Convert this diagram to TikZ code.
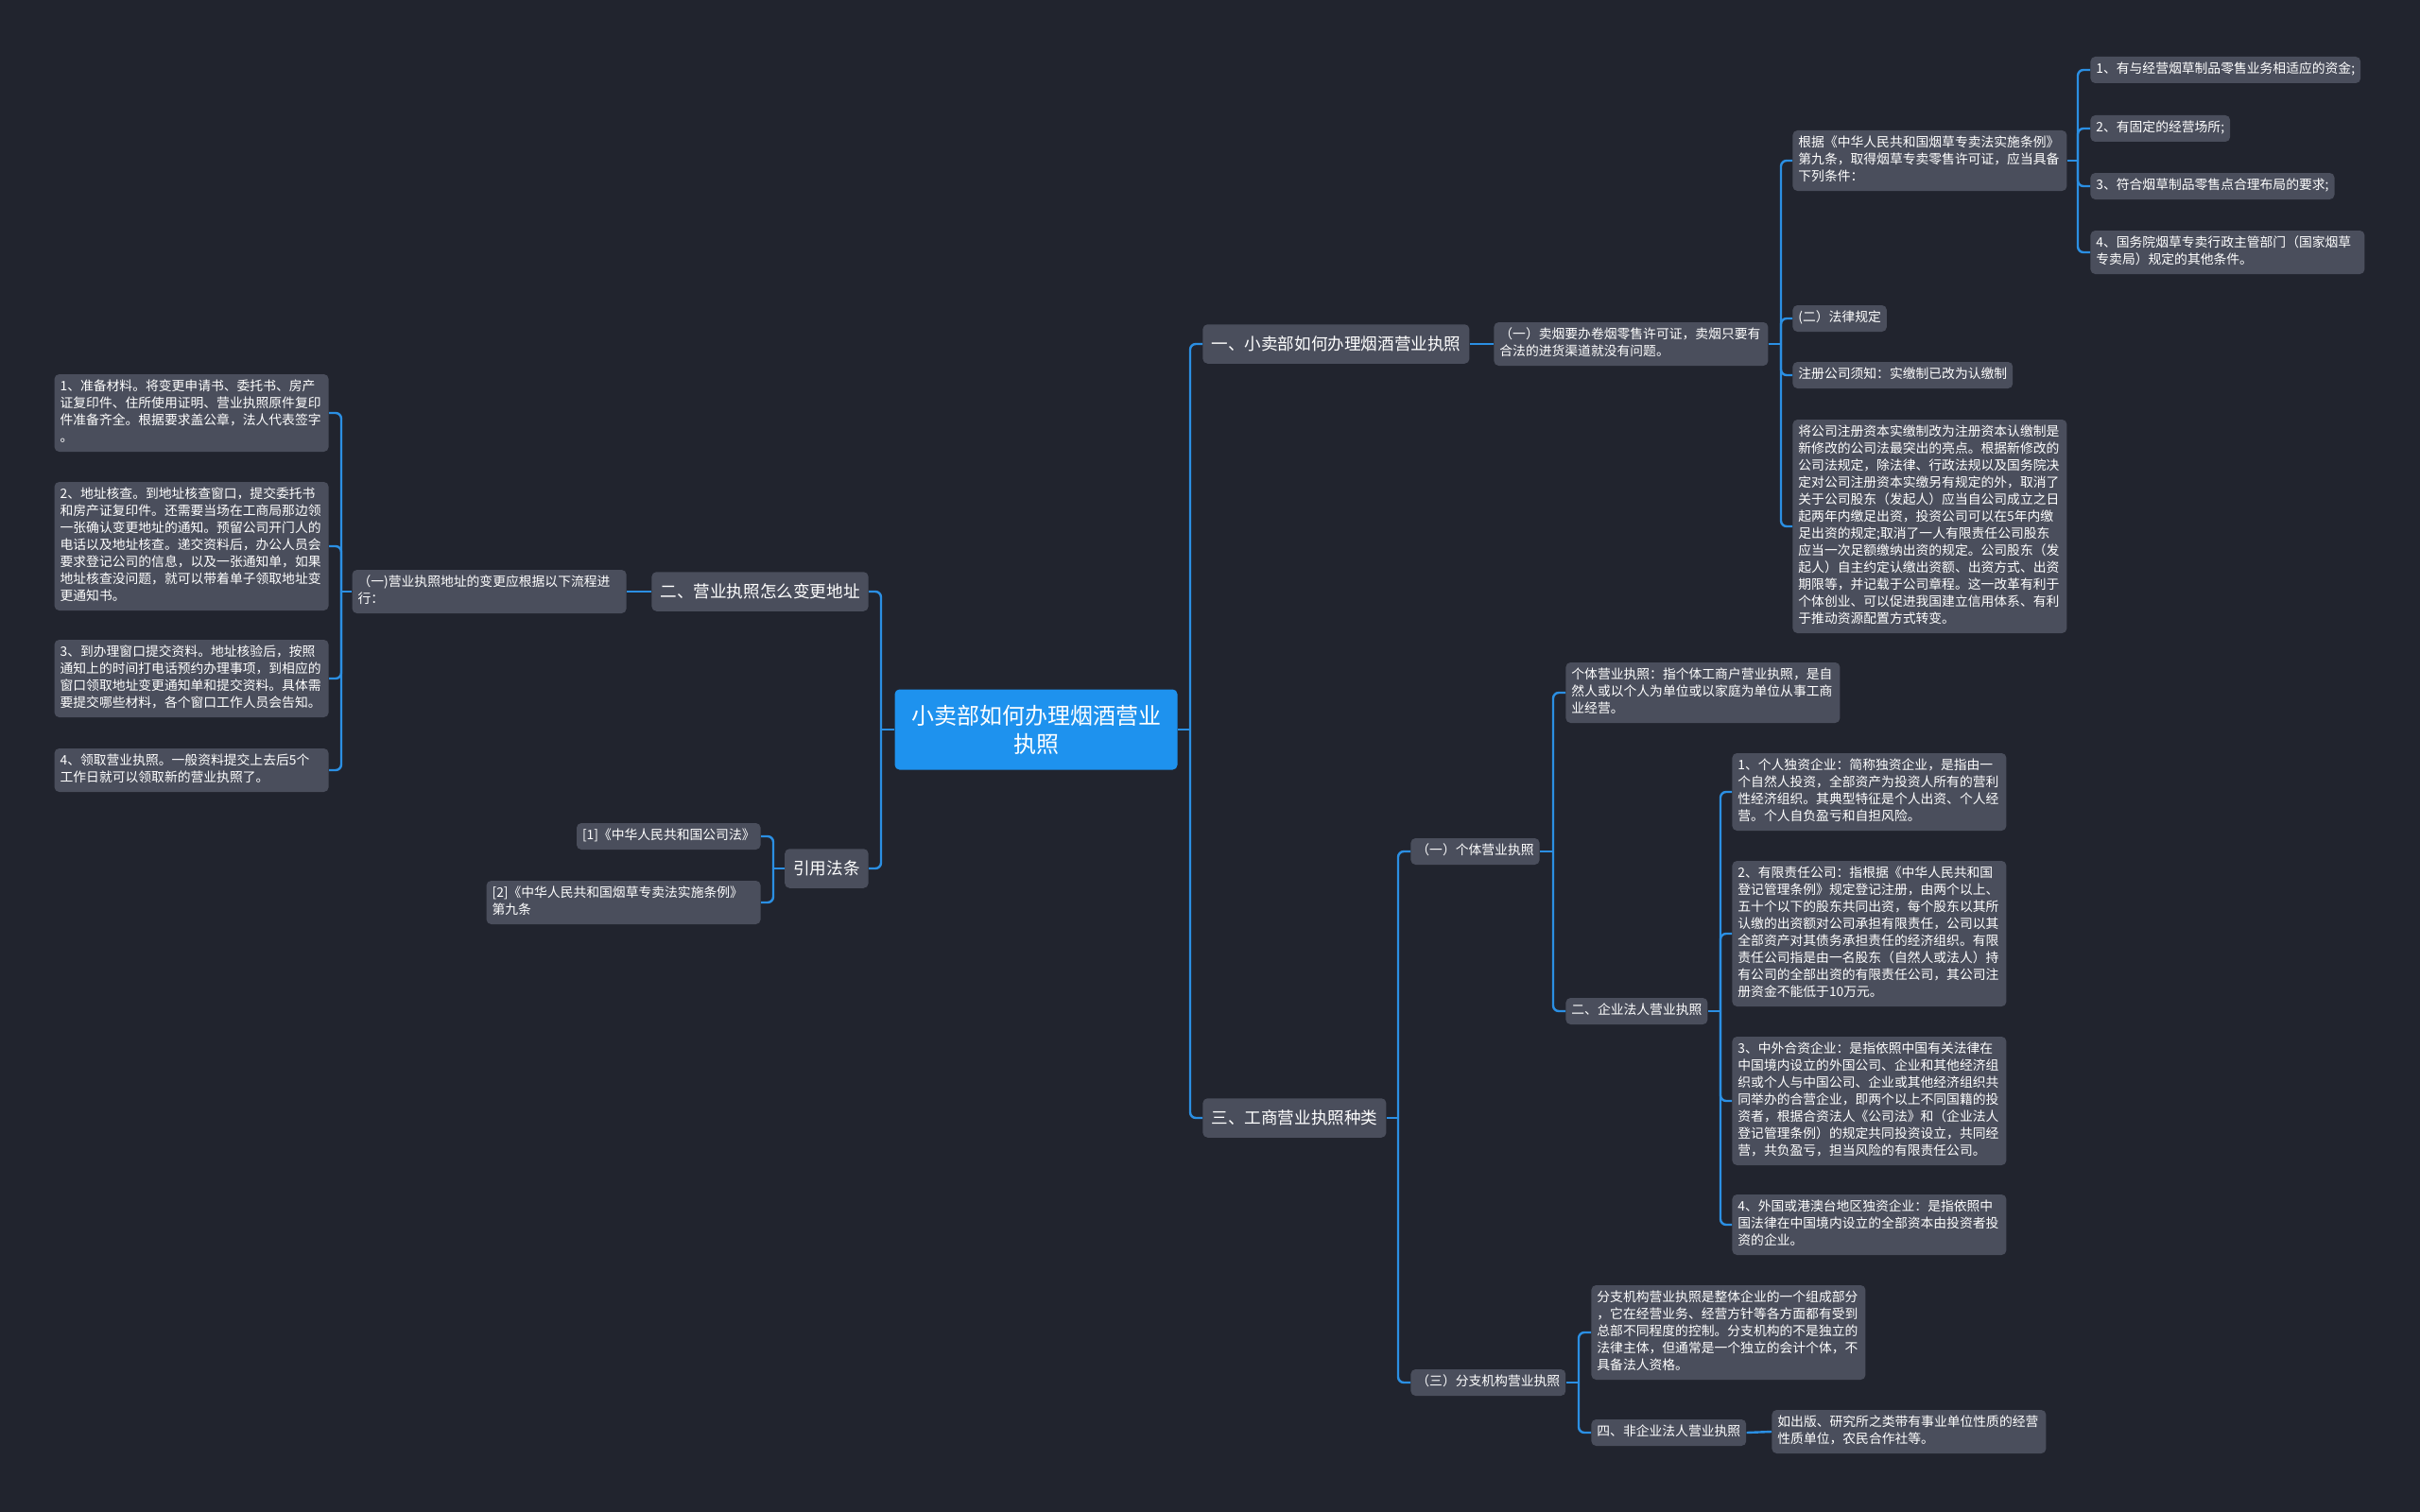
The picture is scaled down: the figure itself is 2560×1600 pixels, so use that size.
\documentclass[tikz,border=0pt]{standalone}
\usepackage{fontspec}
\setmainfont{Noto Sans CJK SC}
\definecolor{bgnavy}{HTML}{21242E}
\definecolor{cardgray}{HTML}{4A4E5C}
\definecolor{rootblue}{HTML}{1E92EE}
\definecolor{wireblue}{HTML}{2B8FE3}
\tikzset{
  card/.style={fill=cardgray, rounded corners=2.5pt, text=white},
  mainbox/.style={fill=rootblue, rounded corners=2.5pt, text=white, align=center,
    font=\fontsize{12}{15}\selectfont, minimum width=149.5pt, minimum height=42.5pt},
  topicbox/.style={card, font=\fontsize{8.8}{11}\selectfont, inner xsep=4.5pt,
    inner ysep=0pt, minimum height=20.75pt},
  itembox/.style={card, font=\fontsize{6.9}{9}\selectfont, inner xsep=3pt, inner ysep=2.5pt,
    execute at begin node=\strut, execute at end node=\strut},
  parabox/.style={itembox, text width=139pt, align=left},
  wire/.style={draw=wireblue, line width=1.2pt, rounded corners=3pt},
}
\begin{document}
\begin{tikzpicture}[x=0.5pt,y=-0.5pt]
    \fill[bgnavy] (0,0) rectangle (2560,1600);
    \useasboundingbox (0,0) rectangle (2560,1600);

    \node[mainbox] (root) at (1096,772) {小卖部如何办理烟酒营业\\执照};

    % right side
    \node[topicbox, anchor=west] (sell) at (1272,364) {一、小卖部如何办理烟酒营业执照};
    \node[parabox, anchor=west] (sellA) at (1580,364) {（一）卖烟要办卷烟零售许可证，卖烟只要有\\合法的进货渠道就没有问题。};
    \node[parabox, anchor=west] (law9) at (1896,170) {根据《中华人民共和国烟草专卖法实施条例》\\第九条，取得烟草专卖零售许可证，应当具备\\下列条件：};
    \node[itembox, anchor=west] (cond1) at (2211,74) {1、有与经营烟草制品零售业务相适应的资金;};
    \node[itembox, anchor=west] (cond2) at (2211,136) {2、有固定的经营场所;};
    \node[itembox, anchor=west] (cond3) at (2211,197) {3、符合烟草制品零售点合理布局的要求;};
    \node[parabox, anchor=west] (cond4) at (2211,267) {4、国务院烟草专卖行政主管部门（国家烟草\\专卖局）规定的其他条件。};
    \node[itembox, anchor=west] (lawrule) at (1896,337) {(二）法律规定};
    \node[itembox, anchor=west] (notice) at (1896,397) {注册公司须知：实缴制已改为认缴制};
    \node[parabox, anchor=west] (reform) at (1896,557) {将公司注册资本实缴制改为注册资本认缴制是\\新修改的公司法最突出的亮点。根据新修改的\\公司法规定，除法律、行政法规以及国务院决\\定对公司注册资本实缴另有规定的外，取消了\\关于公司股东（发起人）应当自公司成立之日\\起两年内缴足出资，投资公司可以在5年内缴\\足出资的规定;取消了一人有限责任公司股东\\应当一次足额缴纳出资的规定。公司股东（发\\起人）自主约定认缴出资额、出资方式、出资\\期限等，并记载于公司章程。这一改革有利于\\个体创业、可以促进我国建立信用体系、有利\\于推动资源配置方式转变。};

    \node[topicbox, anchor=west] (kinds) at (1272,1183) {三、工商营业执照种类};
    \node[itembox, anchor=west] (solo) at (1492,901) {（一）个体营业执照};
    \node[parabox, anchor=west] (soloText) at (1656,733) {个体营业执照：指个体工商户营业执照，是自\\然人或以个人为单位或以家庭为单位从事工商\\业经营。};
    \node[itembox, anchor=west] (corp) at (1656,1070) {二、企业法人营业执照};
    \node[parabox, anchor=west] (corp1) at (1832,838) {1、个人独资企业：简称独资企业，是指由一\\个自然人投资，全部资产为投资人所有的营利\\性经济组织。其典型特征是个人出资、个人经\\营。个人自负盈亏和自担风险。};
    \node[parabox, anchor=west] (corp2) at (1832,988) {2、有限责任公司：指根据《中华人民共和国\\登记管理条例》规定登记注册，由两个以上、\\五十个以下的股东共同出资，每个股东以其所\\认缴的出资额对公司承担有限责任，公司以其\\全部资产对其债务承担责任的经济组织。有限\\责任公司指是由一名股东（自然人或法人）持\\有公司的全部出资的有限责任公司，其公司注\\册资金不能低于10万元。};
    \node[parabox, anchor=west] (corp3) at (1832,1165) {3、中外合资企业：是指依照中国有关法律在\\中国境内设立的外国公司、企业和其他经济组\\织或个人与中国公司、企业或其他经济组织共\\同举办的合营企业，即两个以上不同国籍的投\\资者，根据合资法人《公司法》和（企业法人\\登记管理条例）的规定共同投资设立，共同经\\营，共负盈亏，担当风险的有限责任公司。};
    \node[parabox, anchor=west] (corp4) at (1832,1296) {4、外国或港澳台地区独资企业：是指依照中\\国法律在中国境内设立的全部资本由投资者投\\资的企业。};
    \node[itembox, anchor=west] (subsid) at (1492,1463) {（三）分支机构营业执照};
    \node[parabox, anchor=west] (subsidText) at (1683,1410) {分支机构营业执照是整体企业的一个组成部分\\，它在经营业务、经营方针等各方面都有受到\\总部不同程度的控制。分支机构的不是独立的\\法律主体，但通常是一个独立的会计个体，不\\具备法人资格。};
    \node[itembox, anchor=west] (nonCorp) at (1683,1516) {四、非企业法人营业执照};
    \node[parabox, anchor=west] (nonCorpText) at (1874,1515) {如出版、研究所之类带有事业单位性质的经营\\性质单位，农民合作社等。};

    % left side
    \node[topicbox, anchor=east] (addr) at (919,626) {二、营业执照怎么变更地址};
    \node[parabox, anchor=east] (addrA) at (663,626) {（一)营业执照地址的变更应根据以下流程进\\行：};
    \node[parabox, anchor=east] (step1) at (348,437) {1、准备材料。将变更申请书、委托书、房产\\证复印件、住所使用证明、营业执照原件复印\\件准备齐全。根据要求盖公章，法人代表签字\\。};
    \node[parabox, anchor=east] (step2) at (348,578) {2、地址核查。到地址核查窗口，提交委托书\\和房产证复印件。还需要当场在工商局那边领\\一张确认变更地址的通知。预留公司开门人的\\电话以及地址核查。递交资料后，办公人员会\\要求登记公司的信息，以及一张通知单，如果\\地址核查没问题，就可以带着单子领取地址变\\更通知书。};
    \node[parabox, anchor=east] (step3) at (348,718) {3、到办理窗口提交资料。地址核验后，按照\\通知上的时间打电话预约办理事项，到相应的\\窗口领取地址变更通知单和提交资料。具体需\\要提交哪些材料，各个窗口工作人员会告知。};
    \node[parabox, anchor=east] (step4) at (348,815) {4、领取营业执照。一般资料提交上去后5个\\工作日就可以领取新的营业执照了。};
    \node[topicbox, anchor=east] (cite) at (919,919) {引用法条};
    \node[itembox, anchor=east] (cite1) at (805,885) {[1]《中华人民共和国公司法》};
    \node[parabox, anchor=east] (cite2) at (805,955) {[2]《中华人民共和国烟草专卖法实施条例》\\第九条};

    % junctions
    \coordinate (jR) at (1259,772);
    \coordinate (jL) at (932,772);
    \coordinate (jSellA) at (1884,364);
    \coordinate (jLaw9) at (2198,170);
    \coordinate (jKinds) at (1479,1183);
    \coordinate (jSolo) at (1643,901);
    \coordinate (jCorp) at (1820,1070);
    \coordinate (jSubsid) at (1670,1463);
    \coordinate (jAddrA) at (361,626);
    \coordinate (jCite) at (818,919);

    % wires
    \draw[wire] (root.east) -- (jR);
    \foreach \n in {sell,kinds} \draw[wire] (jR) |- (\n.west);
    \draw[wire] (root.west) -- (jL);
    \foreach \n in {addr,cite} \draw[wire] (jL) |- (\n.east);

    \draw[wire] (sell.east) -- (sellA.west);
    \draw[wire] (sellA.east) -- (jSellA);
    \foreach \n in {law9,lawrule,notice,reform} \draw[wire] (jSellA) |- (\n.west);
    \draw[wire] (law9.east) -- (jLaw9);
    \foreach \n in {cond1,cond2,cond3,cond4} \draw[wire] (jLaw9) |- (\n.west);

    \draw[wire] (kinds.east) -- (jKinds);
    \foreach \n in {solo,subsid} \draw[wire] (jKinds) |- (\n.west);
    \draw[wire] (solo.east) -- (jSolo);
    \foreach \n in {soloText,corp} \draw[wire] (jSolo) |- (\n.west);
    \draw[wire] (corp.east) -- (jCorp);
    \foreach \n in {corp1,corp2,corp3,corp4} \draw[wire] (jCorp) |- (\n.west);
    \draw[wire] (subsid.east) -- (jSubsid);
    \foreach \n in {subsidText,nonCorp} \draw[wire] (jSubsid) |- (\n.west);
    \draw[wire] (nonCorp.east) -- (nonCorpText.west);

    \draw[wire] (addr.west) -- (addrA.east);
    \draw[wire] (addrA.west) -- (jAddrA);
    \foreach \n in {step1,step2,step3,step4} \draw[wire] (jAddrA) |- (\n.east);
    \draw[wire] (cite.west) -- (jCite);
    \foreach \n in {cite1,cite2} \draw[wire] (jCite) |- (\n.east);

\end{tikzpicture}
\end{document}
